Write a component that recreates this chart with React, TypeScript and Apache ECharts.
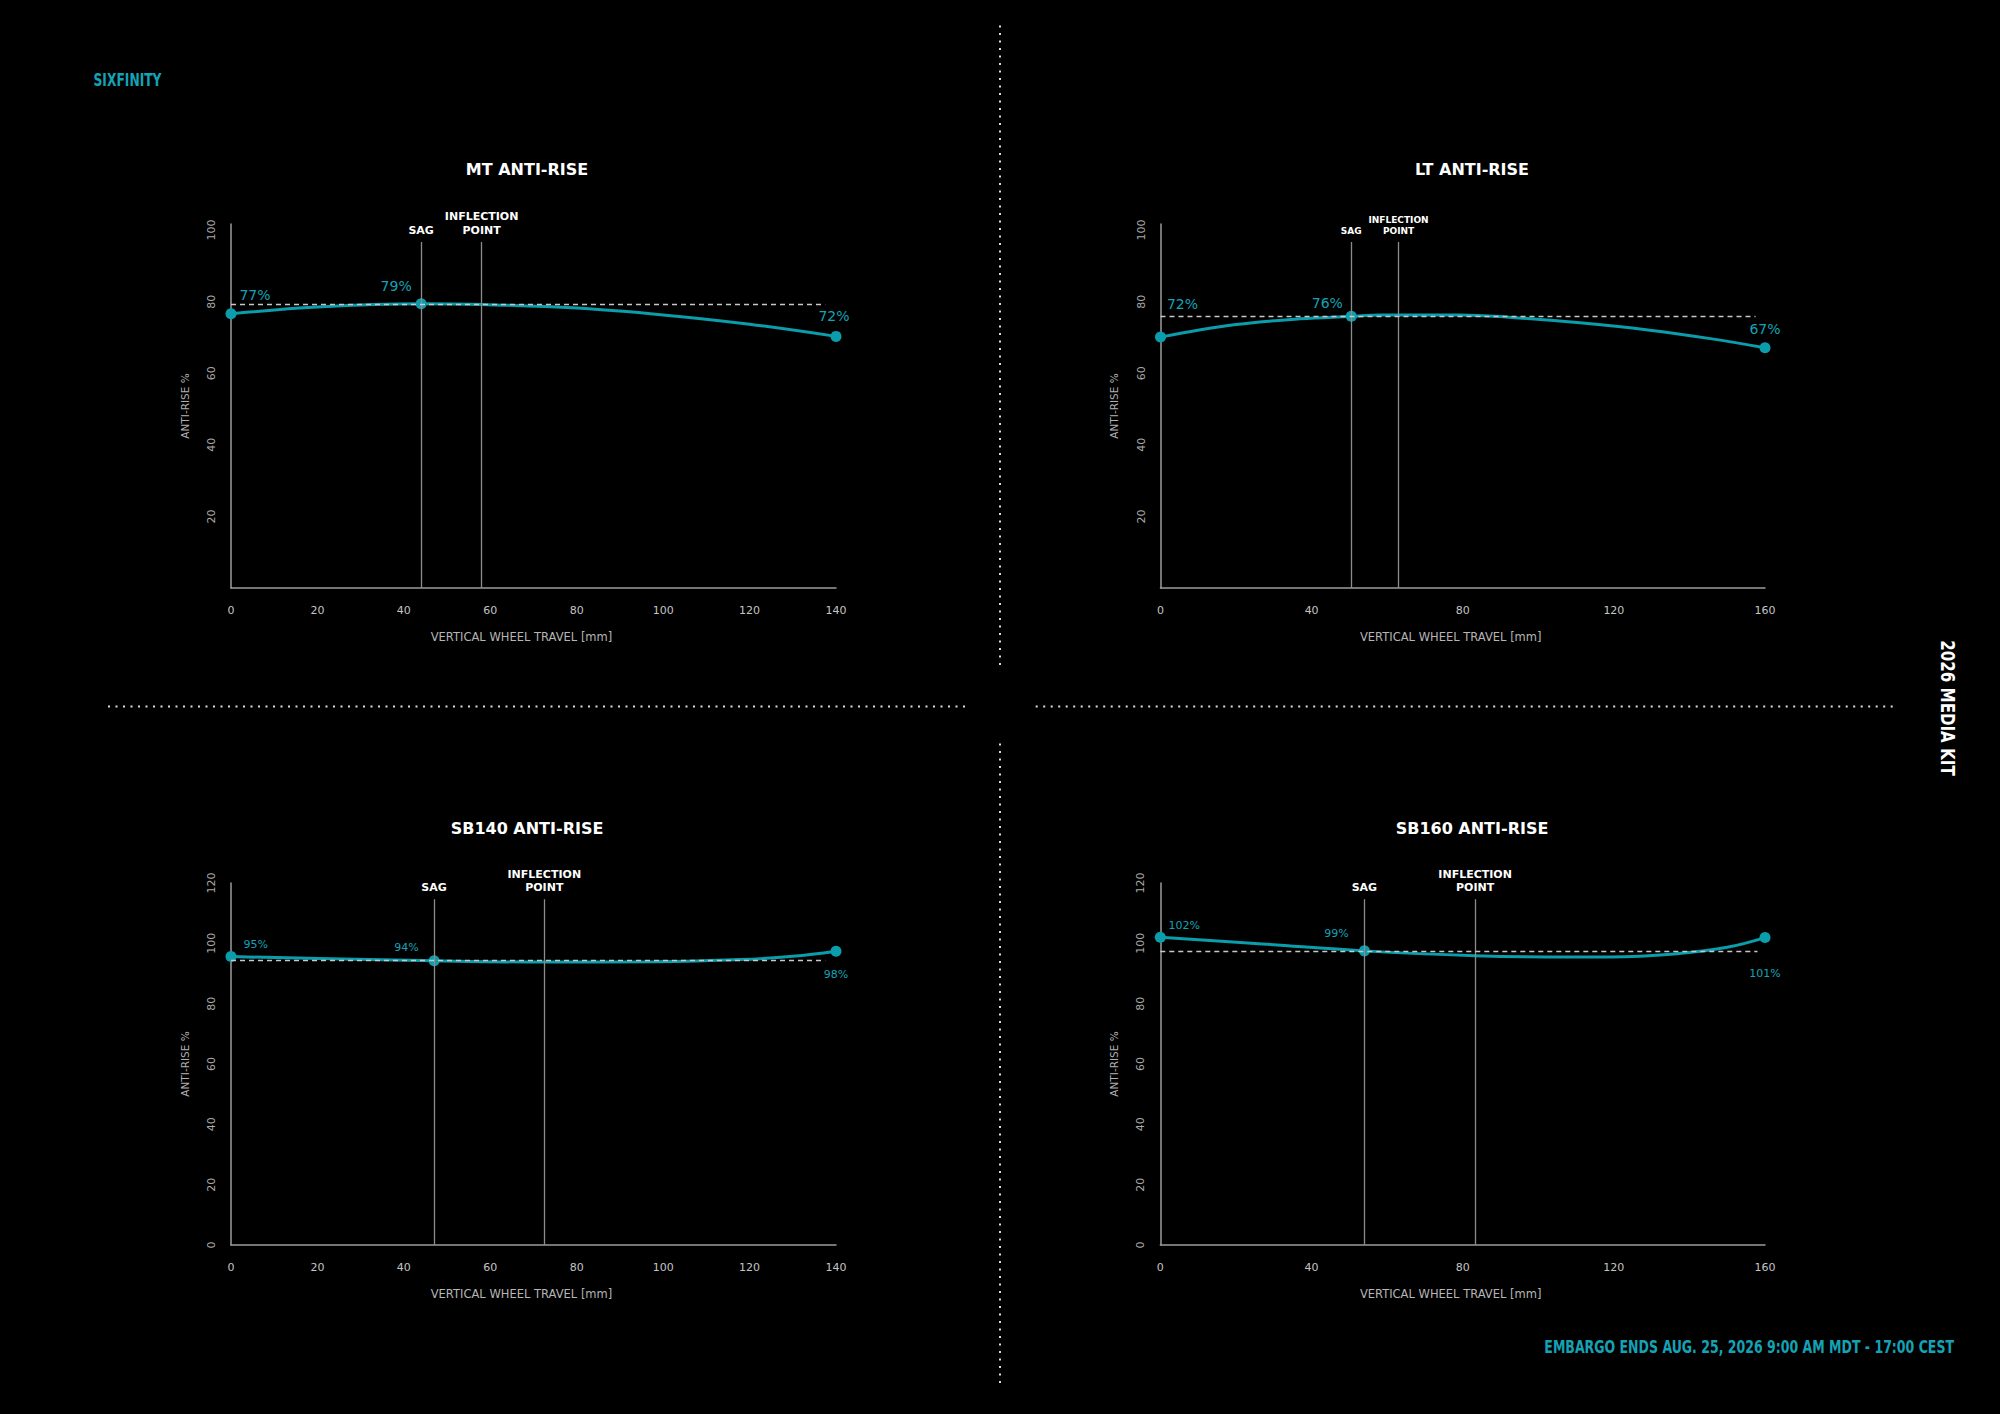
import React, { useEffect, useRef } from "react";
import * as echarts from "echarts";

// ---------- DATA ----------
const chartTitles = ["MT ANTI-RISE", "LT ANTI-RISE", "SB140 ANTI-RISE", "SB160 ANTI-RISE"];
const xAxisName = "VERTICAL WHEEL TRAVEL [mm]";
const yAxisName = "ANTI-RISE %";
const sagLabel = "SAG";
const inflectionLabel = "INFLECTION\nPOINT";

// MT
const mtTravel = [0, 20, 44, 58, 80, 100, 120, 140];
const mtAntiRise = [76.6, 78.5, 79.4, 79.2, 78.2, 76.3, 73.7, 70.3];
const mtKeyTravel = [0, 44, 140];
const mtKeyValues = [76.6, 79.4, 70.3];
const mtKeyLabels = ["77%", "79%", "72%"];
const mtSag = 44;
const mtInflection = 58;
const mtSagLevel = 79.4;

// LT
const ltTravel = [0, 20, 37, 50.5, 58, 79, 93, 111, 129, 146, 160];
const ltAntiRise = [70.1, 73.6, 75.2, 75.9, 76.3, 76.3, 75.6, 74.1, 72.1, 69.6, 67.1];
const ltKeyTravel = [0, 50.5, 160];
const ltKeyValues = [70.1, 75.9, 67.1];
const ltKeyLabels = ["72%", "76%", "67%"];
const ltSag = 50.5;
const ltInflection = 63;
const ltSagLevel = 76.0;

// SB140
const sb140Travel = [0, 23, 47, 72.5, 98, 118, 130, 140];
const sb140AntiRise = [95.6, 94.9, 94.2, 93.8, 93.9, 94.6, 95.7, 97.4];
const sb140KeyTravel = [0, 47, 140];
const sb140KeyValues = [95.6, 94.2, 97.4];
const sb140KeyLabels = ["95%", "94%", "98%"];
const sb140Sag = 47;
const sb140Inflection = 72.5;
const sb140SagLevel = 94.3;

// SB160
const sb160Travel = [0, 27, 54, 83.3, 102, 119, 136, 150, 160];
const sb160AntiRise = [102.0, 99.8, 97.5, 95.9, 95.5, 95.5, 96.5, 98.7, 101.9];
const sb160KeyTravel = [0, 54, 160];
const sb160KeyValues = [102.0, 97.5, 101.9];
const sb160KeyLabels = ["102%", "99%", "101%"];
const sb160Sag = 54;
const sb160Inflection = 83.3;
const sb160SagLevel = 97.5;

const brandText = "SIXFINITY";
const sideText = "2026 MEDIA KIT";
const embargoText = "EMBARGO ENDS AUG. 25, 2026 9:00 AM MDT - 17:00 CEST";

// ---------- STYLE / LAYOUT ----------
const TEAL_LINE = "#0b9dab";
const TEAL_TEXT = "#14a3b6";
const AXIS_GREY = "#9c9c9c";
const FONT = "'DejaVu Sans', sans-serif";
const NARROW = "'Liberation Sans Narrow', 'DejaVu Sans Condensed', 'Roboto', sans-serif";

type Panel = {
  travel: number[];
  values: number[];
  keyT: number[];
  keyV: number[];
  keyL: string[];
  sag: number;
  infl: number;
  level: number;
  levelEnd: number;
  xMax: number;
  xInterval: number;
  yMax: number;
  yLineTop: number;
  hideZero: boolean;
  grid: { left: number; top: number; width: number; height: number };
  offsets: number[][];
  big: boolean;
  markFont: number;
  markLH: number;
  titleX: number;
  titleY: number;
};

const panels: Panel[] = [
  {
    travel: mtTravel, values: mtAntiRise, keyT: mtKeyTravel, keyV: mtKeyValues, keyL: mtKeyLabels,
    sag: mtSag, infl: mtInflection, level: mtSagLevel, levelEnd: 137.5,
    xMax: 140, xInterval: 20, yMax: 101.7, yLineTop: 96.7, hideZero: true,
    grid: { left: 231, top: 224, width: 605, height: 364 },
    offsets: [[24, -19], [-25, -18], [-2, -20.5]], big: true, markFont: 11, markLH: 13.5,
    titleX: 522, titleY: 165,
  },
  {
    travel: ltTravel, values: ltAntiRise, keyT: ltKeyTravel, keyV: ltKeyValues, keyL: ltKeyLabels,
    sag: ltSag, infl: ltInflection, level: ltSagLevel, levelEnd: 157.5,
    xMax: 160, xInterval: 40, yMax: 101.7, yLineTop: 96.7, hideZero: true,
    grid: { left: 1160.5, top: 224, width: 604.5, height: 364 },
    offsets: [[22, -33], [-24, -13.6], [0, -18.7]], big: true, markFont: 9, markLH: 11,
    titleX: 1467, titleY: 165,
  },
  {
    travel: sb140Travel, values: sb140AntiRise, keyT: sb140KeyTravel, keyV: sb140KeyValues, keyL: sb140KeyLabels,
    sag: sb140Sag, infl: sb140Inflection, level: sb140SagLevel, levelEnd: 137.5,
    xMax: 140, xInterval: 20, yMax: 120, yLineTop: 114.6, hideZero: false,
    grid: { left: 231, top: 883, width: 605, height: 362 },
    offsets: [[24.7, -12.4], [-27.6, -13.4], [0, 23]], big: false, markFont: 11, markLH: 13.5,
    titleX: 522, titleY: 824,
  },
  {
    travel: sb160Travel, values: sb160AntiRise, keyT: sb160KeyTravel, keyV: sb160KeyValues, keyL: sb160KeyLabels,
    sag: sb160Sag, infl: sb160Inflection, level: sb160SagLevel, levelEnd: 158,
    xMax: 160, xInterval: 40, yMax: 120, yLineTop: 114.6, hideZero: false,
    grid: { left: 1160.3, top: 883, width: 604.7, height: 362 },
    offsets: [[24, -11.6], [-28, -17], [0, 35.6]], big: false, markFont: 11, markLH: 13.5,
    titleX: 1467, titleY: 824,
  },
];

function buildOption() {
  const grid: any[] = [];
  const xAxis: any[] = [];
  const yAxis: any[] = [];
  const series: any[] = [];
  const title: any[] = [];

  panels.forEach((p, i) => {
    grid.push({ ...p.grid, containLabel: false });
    xAxis.push({
      type: "value",
      gridIndex: i,
      min: 0,
      max: p.xMax,
      interval: p.xInterval,
      name: xAxisName,
      nameLocation: "middle",
      nameGap: 43,
      nameTextStyle: { color: "#b5b5b5", fontSize: 11.5, fontFamily: FONT, padding: [0, 24, 0, 0] },
      axisLine: { show: true, lineStyle: { color: AXIS_GREY, width: 1.5 } },
      axisTick: { show: false },
      splitLine: { show: false },
      axisLabel: { color: "#c4c4c4", fontSize: 11, fontFamily: FONT, margin: 17 },
    });
    yAxis.push({
      type: "value",
      gridIndex: i,
      min: 0,
      max: p.yMax,
      interval: 20,
      name: yAxisName,
      nameLocation: "middle",
      nameGap: 41,
      nameTextStyle: { color: "#b0b0b0", fontSize: 10.5, fontFamily: FONT },
      axisLine: { show: true, lineStyle: { color: AXIS_GREY, width: 1.5 } },
      axisTick: { show: false },
      splitLine: { show: false },
      axisLabel: {
        color: "#a8a8a8",
        fontSize: 11,
        fontFamily: FONT,
        rotate: 90,
        margin: 14,
        showMinLabel: !p.hideZero,
        showMaxLabel: p.yMax % 20 === 0,
      },
    });
    title.push({
      text: chartTitles[i],
      left: p.titleX,
      top: p.titleY - 9,
      textAlign: "center",
      textStyle: { color: "#ffffff", fontSize: 16, fontWeight: "bold", fontFamily: FONT },
    });

    // reference lines (sag, inflection, sag level)
    series.push({
      type: "line",
      xAxisIndex: i,
      yAxisIndex: i,
      data: [],
      z: 1,
      markLine: {
        silent: true,
        symbol: ["none", "none"],
        animation: false,
        lineStyle: { color: "#8c8c8c", width: 1.3, type: "solid" },
        label: {
          show: true,
          position: "end",
          distance: 5,
          color: "#ffffff",
          fontWeight: "bold",
          fontFamily: FONT,
          fontSize: p.markFont,
          lineHeight: p.markLH,
          align: "center",
        },
        data: [
          [
            { coord: [p.sag, 0], label: { formatter: sagLabel } },
            { coord: [p.sag, p.yLineTop] },
          ],
          [
            { coord: [p.infl, 0], label: { formatter: inflectionLabel } },
            { coord: [p.infl, p.yLineTop] },
          ],
          [
            { coord: [0, p.level], label: { show: false }, lineStyle: { color: "#c8c8c8", width: 1.3, type: [5, 4] } },
            { coord: [p.levelEnd, p.level] },
          ],
        ],
      },
    });

    // curve
    series.push({
      type: "line",
      xAxisIndex: i,
      yAxisIndex: i,
      z: 3,
      smooth: 0.4,
      showSymbol: false,
      lineStyle: { color: TEAL_LINE, width: 3 },
      data: p.travel.map((t, k) => [t, p.values[k]]),
    });

    // key points
    series.push({
      type: "scatter",
      xAxisIndex: i,
      yAxisIndex: i,
      z: 4,
      symbolSize: 11,
      itemStyle: { color: TEAL_LINE, opacity: 1 },
      label: {
        show: true,
        position: "inside",
        color: TEAL_TEXT,
        fontFamily: FONT,
        fontSize: p.big ? 14 : 11,
        formatter: (d: any) => d.name,
      },
      data: p.keyT.map((t, k) => ({
        name: p.keyL[k],
        value: [t, p.keyV[k]],
        label: { offset: p.offsets[k] },
      })),
    });
  });

  const dotted = { stroke: "#dcdcdc", lineWidth: 2, lineDash: [2, 5.5] };
  const graphic: any[] = [
    { type: "line", shape: { x1: 1000, y1: 25.5, x2: 1000, y2: 669.6 }, style: dotted, silent: true },
    { type: "line", shape: { x1: 1000, y1: 743.6, x2: 1000, y2: 1387.7 }, style: dotted, silent: true },
    { type: "line", shape: { x1: 108, y1: 706.5, x2: 969, y2: 706.5 }, style: dotted, silent: true },
    { type: "line", shape: { x1: 1035.7, y1: 706.5, x2: 1896.7, y2: 706.5 }, style: dotted, silent: true },
    {
      type: "text",
      x: 93.5,
      y: 80,
      scaleX: 0.76,
      style: {
        text: brandText,
        fill: TEAL_TEXT,
        font: `bold 18px ${NARROW}`,
        textAlign: "left",
        textVerticalAlign: "middle",
        align: "left",
        verticalAlign: "middle",
      },
    },
    {
      type: "text",
      x: 1948,
      y: 708,
      rotation: -Math.PI / 2,
      scaleX: 0.84,
      style: {
        text: sideText,
        fill: "#ffffff",
        font: `bold 20px ${NARROW}`,
        textAlign: "center",
        textVerticalAlign: "middle",
        align: "center",
        verticalAlign: "middle",
      },
    },
    {
      type: "text",
      x: 1954,
      y: 1348,
      scaleX: 0.82,
      style: {
        text: embargoText,
        fill: TEAL_TEXT,
        font: `bold 17px ${NARROW}`,
        textAlign: "right",
        textVerticalAlign: "middle",
        align: "right",
        verticalAlign: "middle",
      },
    },
  ];

  return {
    animation: false,
    backgroundColor: "#000000",
    title,
    grid,
    xAxis,
    yAxis,
    series,
    graphic,
  };
}

export default function App() {
  const ref = useRef<HTMLDivElement>(null);
  useEffect(() => {
    document.body.style.margin = "0";
    document.body.style.background = "#000";
    if (!ref.current) return;
    const chart = echarts.init(ref.current, undefined, { renderer: "svg" });
    chart.setOption(buildOption() as any);
    return () => chart.dispose();
  }, []);
  return <div ref={ref} style={{ width: 2000, height: 1414, background: "#000" }} />;
}
